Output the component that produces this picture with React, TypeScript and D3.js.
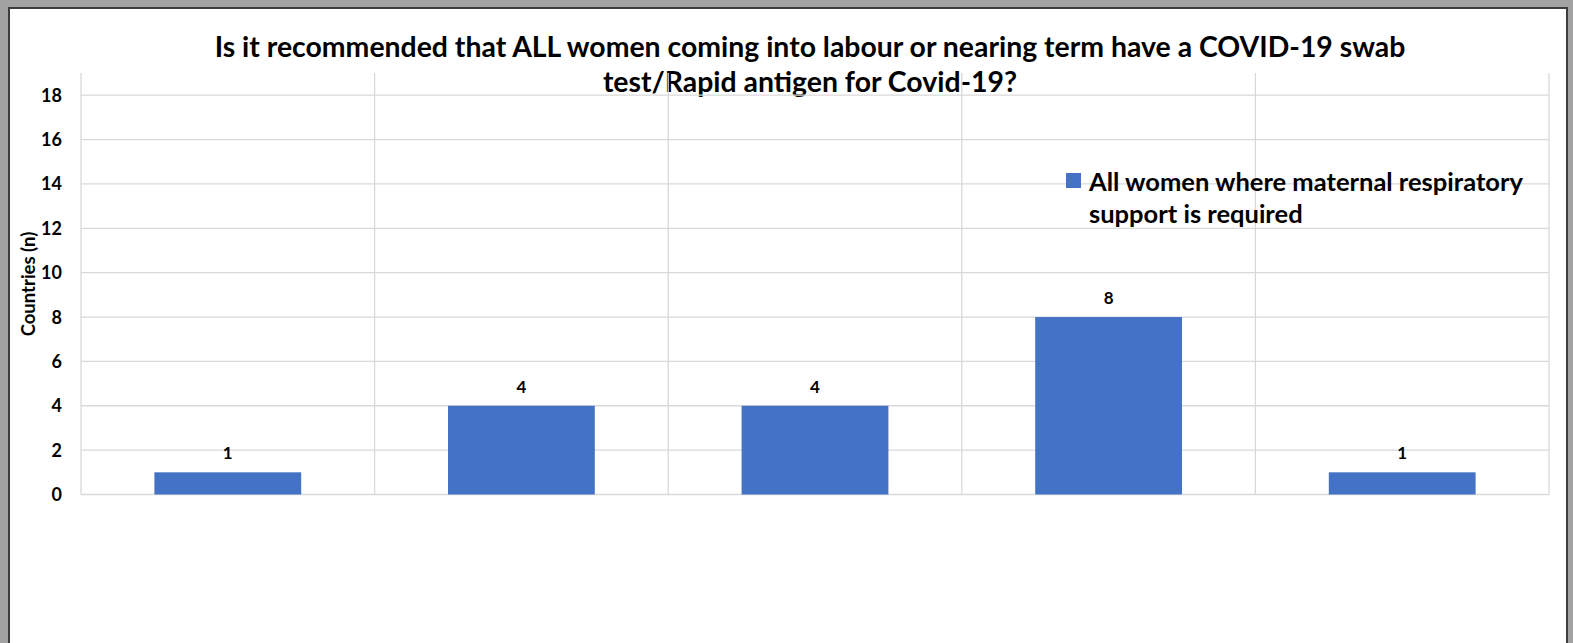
import React from "react";
import * as d3 from "d3";

const categories = ["A", "B", "C", "D", "E"];
const values = [1, 4, 4, 8, 1];
const yTicks = [0, 2, 4, 6, 8, 10, 12, 14, 16, 18];
const seriesName = ["All women where maternal respiratory", "support is required"];
const titleLines = [
  "Is it recommended that ALL women coming into labour or nearing term have a COVID-19 swab",
  "test/Rapid antigen for Covid-19?",
];

const W = 1573;
const H = 643;
const FONT = "Lato, 'Open Sans', sans-serif";

export default function App() {
  const left = 81;
  const right = 1549;
  const top = 73;
  const bottom = 494.5;
  const x = d3.scaleBand<string>().domain(categories).range([left, right]).paddingInner(0).paddingOuter(0);
  const y = d3.scaleLinear().domain([0, 19]).range([bottom, top]);
  const barW = x.bandwidth() * 0.5;
  const grid = "#d9d9d9";

  return (
    <div style={{ position: "absolute", left: 0, top: 0 }}>
      <svg width={W} height={H} style={{ display: "block" }}>
        <rect x={0} y={0} width={W} height={H} fill="#a3a3a3" />
        <rect x={8} y={7} width={1560} height={H} fill="#3c3c3c" />
        <rect x={10} y={9} width={1556} height={H} fill="#ffffff" />

        {titleLines.map((t, i) => (
          <text key={i} x={810} y={57 + i * 35} textAnchor="middle" fontFamily={FONT} fontWeight="bold" fontSize={28.4} fill="#000">
            {t}
          </text>
        ))}

        {yTicks.map((t) => (
          <line key={t} x1={left} x2={right} y1={y(t)} y2={y(t)} stroke={grid} strokeWidth={1.3} />
        ))}
        {categories.map((c) => (
          <line key={c} x1={x(c)!} x2={x(c)!} y1={top} y2={bottom} stroke={grid} strokeWidth={1.3} />
        ))}
        <line x1={right} x2={right} y1={top} y2={bottom} stroke={grid} strokeWidth={1.3} />

        {yTicks.map((t) => (
          <text key={t} x={62} y={y(t) + 6.5} textAnchor="end" fontFamily={FONT} fontWeight="bold" fontSize={18} fill="#000">
            {t}
          </text>
        ))}

        <text transform={`translate(35,${284}) rotate(-90)`} textAnchor="middle" fontFamily={FONT} fontWeight="bold" fontSize={18.5} fill="#000">
          Countries (n)
        </text>

        {categories.map((c, i) => {
          const cx = x(c)! + x.bandwidth() / 2;
          return (
            <g key={c}>
              <rect x={cx - barW / 2} y={y(values[i])} width={barW} height={bottom - y(values[i])} fill="#4472C4" />
              <text x={cx} y={y(values[i]) - 13} textAnchor="middle" fontFamily={FONT} fontWeight="bold" fontSize={17} fill="#000">
                {values[i]}
              </text>
            </g>
          );
        })}

        <rect x={1066} y={173} width={15} height={15} fill="#4472C4" />
        {seriesName.map((t, i) => (
          <text key={i} x={1089} y={191 + i * 32} fontFamily={FONT} fontWeight="bold" fontSize={25.5} fill="#000">
            {t}
          </text>
        ))}
      </svg>
    </div>
  );
}
